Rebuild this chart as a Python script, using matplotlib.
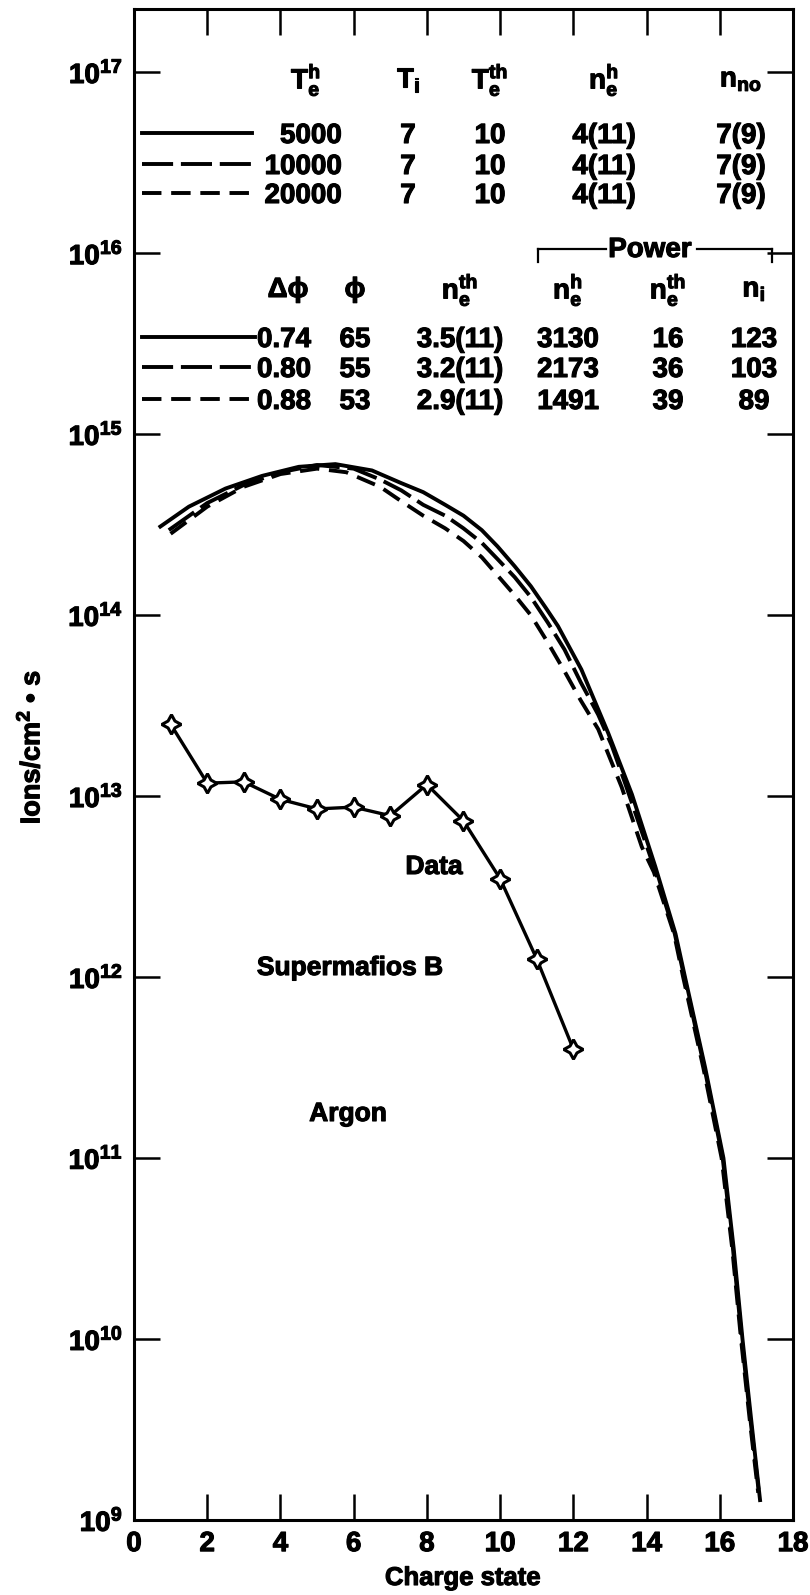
import matplotlib
matplotlib.use("Agg")
import numpy as np
import matplotlib.pyplot as plt
import matplotlib.patheffects as pe
from matplotlib.lines import Line2D
from matplotlib.ticker import NullLocator, FixedLocator

plt.rcParams['font.family'] = ['Liberation Sans', 'DejaVu Sans']
plt.rcParams['font.weight'] = 'bold'
plt.rcParams['mathtext.fontset'] = 'custom'
plt.rcParams['mathtext.rm'] = 'Liberation Sans:bold'
plt.rcParams['mathtext.bf'] = 'Liberation Sans:bold'
plt.rcParams['mathtext.sf'] = 'Liberation Sans:bold'
plt.rcParams['mathtext.it'] = 'Liberation Sans:italic:bold'
plt.rcParams['mathtext.default'] = 'rm'

# ---------------- data ----------------
# Measured data (Supermafios B, Argon)
data_charge = [1, 2, 3, 4, 5, 6, 7, 8, 9, 10, 11, 12]
data_flux = [2.5e13, 1.18e13, 1.2e13, 9.6e12, 8.5e12, 8.7e12, 7.8e12,
             1.16e13, 7.3e12, 3.5e12, 1.26e12, 4.0e11]

# Model curves (charge state, log10 flux)
model_5000_x = [0.72, 1.5, 2.5, 3.5, 4.5, 5.5, 6.5, 7.3, 7.9, 8.5, 9.0, 9.5,
                9.93, 10.4, 10.84, 11.25, 11.58, 12.22, 12.95, 13.6, 14.24,
                14.79, 15.05, 15.6, 16.1, 16.38, 16.62, 16.86, 17.1]
model_5000_log = [14.49, 14.60, 14.70, 14.77, 14.82, 14.835, 14.80, 14.73, 14.68,
                  14.61, 14.55, 14.47, 14.38, 14.27, 14.16, 14.04, 13.94, 13.70,
                  13.35, 13.01, 12.61, 12.24, 12.00, 11.50, 11.00, 10.50, 10.00,
                  9.55, 9.11]

model_10000_x = [0.95, 2.0, 3.0, 4.0, 5.0, 6.0, 6.72, 7.3, 7.9, 8.5, 9.0, 9.5,
                 9.93, 10.4, 10.84, 11.3, 11.76, 12.2, 12.68, 13.05, 13.4, 14.2,
                 14.77, 15.03, 15.58, 16.08, 16.36, 16.6, 16.84, 17.08]
model_10000_log = [14.47, 14.62, 14.72, 14.79, 14.83, 14.81, 14.75, 14.69, 14.61,
                   14.55, 14.48, 14.40, 14.31, 14.21, 14.10, 13.96, 13.81, 13.63,
                   13.45, 13.28, 13.08, 12.61, 12.24, 12.00, 11.50, 11.00, 10.50,
                   10.00, 9.55, 9.13]

model_20000_x = [1.0, 2.0, 3.0, 4.0, 5.0, 5.8, 6.72, 7.3, 7.9, 8.5, 9.0, 9.5,
                 9.93, 10.4, 10.84, 11.3, 11.76, 12.2, 12.68, 13.32, 13.87, 14.2,
                 14.75, 15.0, 15.55, 16.05, 16.34, 16.58, 16.82, 17.05]
model_20000_log = [14.45, 14.60, 14.71, 14.78, 14.81, 14.79, 14.71, 14.63, 14.55,
                   14.48, 14.41, 14.32, 14.22, 14.11, 14.00, 13.85, 13.69, 13.53,
                   13.37, 13.05, 12.72, 12.58, 12.24, 12.00, 11.50, 11.00, 10.50,
                   10.00, 9.55, 9.15]

x_ticks = [0, 2, 4, 6, 8, 10, 12, 14, 16, 18]
y_ticks = [1e9, 1e10, 1e11, 1e12, 1e13, 1e14, 1e15, 1e16, 1e17]

table1_header = [r'$T_e^h$', r'$T_i$', r'$T_e^{th}$', r'$n_e^h$', r'$n_{no}$']
table1_Te = ['5000', '10000', '20000']
table1_Ti = ['7', '7', '7']
table1_Teth = ['10', '10', '10']
table1_neh = ['4(11)', '4(11)', '4(11)']
table1_nno = ['7(9)', '7(9)', '7(9)']

table2_header = ['Δϕ', 'ϕ', r'$n_e^{th}$', r'$n_e^h$', r'$n_e^{th}$', r'$n_i$']
table2_dphi = ['0.74', '0.80', '0.88']
table2_phi = ['65', '55', '53']
table2_neth = ['3.5(11)', '3.2(11)', '2.9(11)']
table2_pow_neh = ['3130', '2173', '1491']
table2_pow_neth = ['16', '36', '39']
table2_pow_ni = ['123', '103', '89']

# ---------------- figure ----------------
W, H = 810, 1595
fig = plt.figure(figsize=(W / 100, H / 100), dpi=100)
ax = fig.add_axes([134 / W, 75 / H, (793 - 134) / W, (1520 - 9) / H])
ax.set_xlim(0, 18)
ax.set_yscale('log')
ax.set_ylim(1e9, 10 ** 17.35)

LW = 2.8
styles = ['-', (0, (8, 2)), (0, (5, 2.5))]
ink = [pe.withStroke(linewidth=0.8, foreground='black')]

ax.plot(model_5000_x, 10 ** np.array(model_5000_log), color='k', lw=LW, ls=styles[0])
ax.plot(model_10000_x, 10 ** np.array(model_10000_log), color='k', lw=LW, ls=styles[1])
ax.plot(model_20000_x, 10 ** np.array(model_20000_log), color='k', lw=LW, ls=styles[2])

ax.plot(data_charge, data_flux, color='k', lw=2.4, marker=(4, 1, 0), ms=14,
        mfc='white', mec='k', mew=2.2, zorder=5)

ax.xaxis.set_major_locator(FixedLocator(x_ticks))
ax.set_xticklabels([str(t) for t in x_ticks])
ax.yaxis.set_major_locator(FixedLocator(y_ticks))
ax.yaxis.set_minor_locator(NullLocator())
ax.xaxis.set_minor_locator(NullLocator())
ax.tick_params(which='major', direction='in', length=19, width=1.8,
               top=True, right=True, labelsize=20, pad=8)
for lab in ax.get_xticklabels() + ax.get_yticklabels():
    lab.set_path_effects(ink)
for s in ax.spines.values():
    s.set_linewidth(2.2)


def fx(x):
    return x / W


def fy(y):
    return 1 - y / H


def ftext(x, y, s, ha='center', va='center', size=20, **kw):
    fig.text(fx(x), fy(y), s, ha=ha, va=va, fontsize=size, fontweight='bold',
             path_effects=ink, **kw)


def hline(x0, x1, y, ls):
    fig.add_artist(Line2D([fx(x0), fx(x1)], [fy(y), fy(y)], transform=fig.transFigure,
                          color='k', lw=LW, linestyle=ls))


def seg(x0, y0, x1, y1, lw=1.6):
    fig.add_artist(Line2D([fx(x0), fx(x1)], [fy(y0), fy(y1)], transform=fig.transFigure,
                          color='k', lw=lw))


# Table 1
h1x = [306, 408, 490, 604, 741]
for xx, s in zip(h1x, table1_header):
    ftext(xx, 80, s)
rows1 = [133, 164, 193]
for i, yc in enumerate(rows1):
    hline(142, 252 if i == 0 else 258, yc, styles[i])
    yb = yc + 10
    ftext(342, yb, table1_Te[i], ha='right', va='baseline')
    ftext(408, yb, table1_Ti[i], va='baseline')
    ftext(490, yb, table1_Teth[i], va='baseline')
    ftext(604, yb, table1_neh[i], va='baseline')
    ftext(741, yb, table1_nno[i], va='baseline')

# Table 2
ftext(650, 250, 'Power')
seg(538, 249, 606, 249)
seg(697, 249, 772, 249)
seg(538, 249, 538, 262)
seg(772, 249, 772, 262)
h2x = [288, 355, 460, 568, 668, 754]
for xx, s in zip(h2x, table2_header):
    ftext(xx, 290, s)
rows2 = [337, 367, 399]
for i, yc in enumerate(rows2):
    hline(142, 255, yc, styles[i])
    yb = yc + 10
    ftext(257, yb, table2_dphi[i], ha='left', va='baseline')
    ftext(355, yb, table2_phi[i], va='baseline')
    ftext(460, yb, table2_neth[i], va='baseline')
    ftext(568, yb, table2_pow_neh[i], va='baseline')
    ftext(668, yb, table2_pow_neth[i], va='baseline')
    ftext(754, yb, table2_pow_ni[i], va='baseline')

# Annotations
ftext(434, 867, 'Data', size=19)
ftext(350, 968, 'Supermafios B', size=19)
ftext(348, 1114, 'Argon', size=19)

# Axis labels
ftext(463, 1578, 'Charge state', size=18.5)
ftext(31, 747, 'Ions/cm$^2$ • s', size=19.5, rotation=90)

fig.savefig('out.png', dpi=100)
